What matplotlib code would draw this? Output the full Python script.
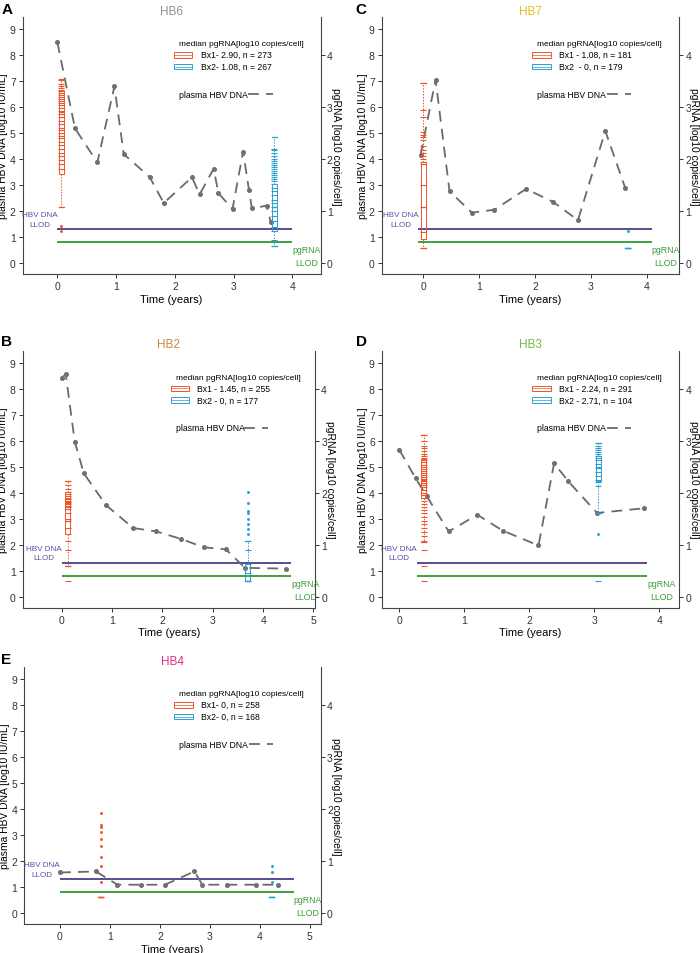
import matplotlib
matplotlib.use('Agg')
import matplotlib.pyplot as plt
from matplotlib.patches import Rectangle

plt.rcParams['font.family'] = ['Liberation Sans', 'DejaVu Sans']

# plasma HBV DNA [log10 IU/mL] over time (years)
hb6_t = [0.0, 0.30, 0.68, 0.97, 1.13, 1.57, 1.81, 2.29, 2.42, 2.66, 2.74, 2.98, 3.16, 3.26, 3.31, 3.56, 3.63]
hb6_dna = [8.49, 5.18, 3.87, 6.79, 4.19, 3.31, 2.31, 3.30, 2.64, 3.63, 2.69, 2.08, 4.29, 2.82, 2.10, 2.21, 1.59]
hb7_t = [-0.05, 0.22, 0.47, 0.87, 1.27, 1.84, 2.32, 2.77, 3.26, 3.62]
hb7_dna = [4.15, 7.05, 2.76, 1.94, 2.05, 2.85, 2.36, 1.65, 5.08, 2.87]
hb2_t = [0.0, 0.08, 0.26, 0.44, 0.88, 1.42, 1.88, 2.37, 2.82, 3.26, 3.64, 4.45]
hb2_dna = [8.42, 8.55, 5.95, 4.74, 3.52, 2.64, 2.51, 2.22, 1.90, 1.82, 1.11, 1.08]
hb3_t = [0.0, 0.25, 0.42, 0.76, 1.20, 1.59, 2.14, 2.38, 2.60, 3.04, 3.76]
hb3_dna = [5.65, 4.56, 3.87, 2.51, 3.15, 2.54, 1.97, 5.13, 4.43, 3.22, 3.40]
hb4_t = [0.0, 0.72, 1.15, 1.63, 2.10, 2.69, 2.85, 3.35, 3.93, 4.36]
hb4_dna = [1.56, 1.60, 1.09, 1.09, 1.09, 1.60, 1.09, 1.09, 1.09, 1.09]

dna_llod = 1.3   # log10 IU/mL
pg_llod = 0.4    # log10 copies/cell (right axis)

# extent of the LLOD lines (years)
hb6_llod_x = [0.0, 4.0]
hb7_llod_x = [-0.09, 4.09]
hb2_llod_x = [0.0, 4.56]
hb3_llod_x = [0.27, 3.81]
hb4_llod_x = [0.0, 4.68]

# pgRNA biopsies: position, [whislo, q1, med, q3, whishi], dash points, dot points
hb6_bx_x = [0.07, 3.69]
hb6_bx_stats = [[1.07, 1.71, 2.90, 3.30, 3.53], [0.32, 0.62, 1.08, 1.52, 2.43]]
hb6_bx_dash = [[3.52, 3.45, 3.40, 3.36, 3.33, 3.30, 3.27, 3.24, 3.20, 3.16, 3.12, 3.08, 3.03, 2.98, 2.92,
                2.86, 2.80, 2.74, 2.68, 2.60, 2.55, 2.50, 2.45, 2.40, 2.33, 2.27, 2.20, 2.12, 2.05, 1.98, 1.90, 1.80],
               [2.20, 2.17, 2.12, 2.05, 2.00, 1.97, 1.93, 1.88, 1.84, 1.80, 1.77, 1.74, 1.70, 1.66, 1.62,
                1.57, 1.52, 1.45, 1.38, 1.30, 1.22, 1.15, 1.08, 1.00, 0.90, 0.80, 0.70, 0.62, 0.45, 0.32]]
hb6_bx_dots = [[0.72, 0.61], []]
hb6_bx_labels = ['Bx1- 2.90, n = 273', 'Bx2- 1.08, n = 267']

hb7_bx_x = [0.0, 3.66]
hb7_bx_stats = [[0.30, 0.46, 1.08, 1.94, 3.47], [0.30, 0.30, 0.30, 0.30, 0.30]]
hb7_bx_dash = [[3.47, 2.95, 2.80, 2.52, 2.47, 2.42, 2.36, 2.25, 2.18, 2.12, 2.06, 2.00, 1.95, 1.90,
                1.50, 1.08, 0.60, 0.30],
               [0.30]]
hb7_bx_dots = [[], [0.61]]
hb7_bx_labels = ['Bx1 - 1.08, n = 181', 'Bx2  - 0, n = 179']

hb2_bx_x = [0.12, 3.69]
hb2_bx_stats = [[0.60, 1.20, 1.45, 2.02, 2.22], [0.30, 0.30, 0.30, 0.62, 1.08]]
hb2_bx_dash = [[2.22, 2.15, 2.08, 2.02, 1.98, 1.94, 1.90, 1.87, 1.84, 1.82, 1.80, 1.78, 1.75, 1.72,
                1.68, 1.60, 1.50, 1.45, 1.32, 1.20, 1.08, 0.90, 0.60, 0.30],
               [1.08, 0.90, 0.62, 0.45, 0.30]]
hb2_bx_dots = [[], [2.02, 1.80, 1.65, 1.60, 1.50, 1.40, 1.30, 1.20]]
hb2_bx_labels = ['Bx1 - 1.45, n = 255', 'Bx2 - 0, n = 177']

hb3_bx_x = [0.38, 3.06]
hb3_bx_stats = [[1.05, 1.90, 2.24, 2.65, 3.10], [1.60, 2.22, 2.50, 2.70, 2.95]]
hb3_bx_dash = [[3.10, 3.00, 2.90, 2.85, 2.80, 2.75, 2.70, 2.66, 2.62, 2.58, 2.54, 2.50, 2.46, 2.42,
                2.38, 2.34, 2.30, 2.26, 2.22, 2.18, 2.14, 2.10, 2.05, 2.00, 1.95, 1.90, 1.84, 1.78,
                1.72, 1.66, 1.60, 1.53, 1.46, 1.40, 1.32, 1.25, 1.16, 1.08, 0.90, 0.60, 0.30],
               [2.95, 2.90, 2.86, 2.82, 2.78, 2.74, 2.70, 2.66, 2.62, 2.55, 2.48, 2.40, 2.32, 2.25,
                2.20, 2.12, 1.60, 0.30]]
hb3_bx_dots = [[], [1.20]]
hb3_bx_labels = ['Bx1 - 2.24, n = 291', 'Bx2 - 2.71, n = 104']

hb4_bx_x = [0.82, 4.24]
hb4_bx_stats = [[0.30, 0.30, 0.30, 0.30, 0.30], [0.30, 0.30, 0.30, 0.30, 0.30]]
hb4_bx_dash = [[0.30], [0.30]]
hb4_bx_dots = [[1.92, 1.70, 1.65, 1.55, 1.42, 1.28, 1.08, 0.90, 0.60], [0.90, 0.78, 0.60]]
hb4_bx_labels = ['Bx1- 0, n = 258', 'Bx2- 0, n = 168']

bx_colors = ['#f0552a', '#2aa0d2']
line_col = '#6a6a6a'
purple = '#4a3f8f'
green = '#2e9a2e'
axis_col = '#333333'


def draw_panel(rect, letter, letter_xy, name, name_col, t, dna, llod_x,
               bx_x, bx_stats, bx_dash, bx_dots, bx_labels, xlim, xmax):
    ax = fig.add_axes(rect)
    ylim = (-0.42, 9.46)
    ax.set_ylim(ylim)
    ax.set_xlim(xlim)
    ax.set_xticks(range(0, xmax + 1))
    ax.set_yticks(range(0, 10))

    ax.plot(t, dna, color=line_col, lw=1.3, dashes=(6, 4), marker='o', ms=2.6,
            mfc='#707070', mec='#707070', zorder=4)
    ax.hlines(dna_llod, llod_x[0], llod_x[1], color=purple, lw=1.3, zorder=3)
    ax.hlines(pg_llod * 2, llod_x[0], llod_x[1], color=green, lw=1.3, zorder=3)
    ax.text(llod_x[0], dna_llod + 0.06, 'HBV DNA\nLLOD', color='#5b4fa5', fontsize=5.9,
            ha='right', va='bottom', multialignment='center', linespacing=1.55)
    ax.text(llod_x[1], pg_llod * 2 - 0.12, 'pgRNA\nLLOD', color='#3a9d3a', fontsize=6.3,
            ha='left', va='top', multialignment='center', linespacing=1.5)

    ax2 = ax.twinx()
    ax2.set_ylim(ylim[0] / 2, ylim[1] / 2)
    ax2.set_yticks(range(0, 5))

    px_per_year = rect[2] * 700 / (xlim[1] - xlim[0])
    w = 5.0 / px_per_year
    for i in range(2):
        c = bx_colors[i]
        s = bx_stats[i]
        st = [dict(whislo=s[0], q1=s[1], med=s[2], q3=s[3], whishi=s[4], fliers=[])]
        ax2.bxp(st, positions=[bx_x[i]], widths=w, capwidths=w, showfliers=False,
                manage_ticks=False,
                boxprops=dict(color=c, lw=0.7),
                whiskerprops=dict(color=c, lw=0.7, ls=(0, (1.5, 1.5))),
                capprops=dict(color=c, lw=0.9),
                medianprops=dict(color=c, lw=0.9))
        ax2.plot([bx_x[i]] * len(bx_dash[i]), bx_dash[i], ls='none', marker='_',
                 ms=5, mew=0.8, color=c)
        if bx_dots[i]:
            ax2.plot([bx_x[i]] * len(bx_dots[i]), bx_dots[i], ls='none', marker='.',
                     ms=2.2, color=c)

    for a in (ax, ax2):
        a.spines['top'].set_visible(False)
        a.tick_params(direction='out', length=3, width=0.7, labelsize=7.5,
                      colors=axis_col, pad=2)
    ax2.tick_params(pad=1.5)
    ax.spines['right'].set_visible(False)
    ax2.spines['left'].set_visible(False)
    ax2.spines['bottom'].set_visible(False)
    for sp in ('left', 'bottom'):
        ax.spines[sp].set_color('#444444')
        ax.spines[sp].set_linewidth(0.8)
    ax2.spines['right'].set_color('#444444')
    ax2.spines['right'].set_linewidth(0.8)

    ax.set_xlabel('Time (years)', fontsize=8, labelpad=2)
    ax.set_ylabel('plasma HBV DNA [log10 IU/mL]', fontsize=7.4, labelpad=1)
    ax2.set_ylabel('pgRNA [log10 copies/cell]', fontsize=7.4, rotation=270,
                   va='bottom', labelpad=-1.5)
    ax.set_title(name, color=name_col, fontsize=8.5, pad=2.5)
    fig.text(letter_xy[0], letter_xy[1], letter, fontsize=11, fontweight='bold',
             ha='left', va='center')

    # legend
    tr = ax.transAxes
    ax.text(0.523, 0.897, 'median pgRNA[log10 copies/cell]', fontsize=6, ha='left',
            va='center', transform=tr)
    for i in range(2):
        y = 0.853 - i * 0.046
        ax.add_patch(Rectangle((0.507, y - 0.011), 0.062, 0.022, transform=tr,
                               fill=False, ec=bx_colors[i], lw=0.7))
        ax.plot([0.507, 0.569], [y, y], color=bx_colors[i], lw=0.5, transform=tr)
        ax.text(0.598, y, bx_labels[i], fontsize=6.2, ha='left', va='center', transform=tr)
    ax.text(0.523, 0.70, 'plasma HBV DNA', fontsize=6.2, ha='left', va='center', transform=tr)
    ax.plot([0.757, 0.84], [0.70, 0.70], color=line_col, lw=1.3, dashes=(6, 4), transform=tr)


fig = plt.figure(figsize=(7, 9.54), dpi=100)

draw_panel([0.0324, 0.7117, 0.4257, 0.2694], 'A', (0.002, 0.990), 'HB6', '#8f8f8f',
           hb6_t, hb6_dna, hb6_llod_x, hb6_bx_x, hb6_bx_stats, hb6_bx_dash, hb6_bx_dots,
           hb6_bx_labels, (-0.59, 4.48), 4)
draw_panel([0.5453, 0.7117, 0.4247, 0.2694], 'C', (0.508, 0.990), 'HB7', '#e8b820',
           hb7_t, hb7_dna, hb7_llod_x, hb7_bx_x, hb7_bx_stats, hb7_bx_dash, hb7_bx_dots,
           hb7_bx_labels, (-0.745, 4.58), 4)
draw_panel([0.0324, 0.362, 0.4176, 0.2694], 'B', (0.002, 0.641), 'HB2', '#c88a40',
           hb2_t, hb2_dna, hb2_llod_x, hb2_bx_x, hb2_bx_stats, hb2_bx_dash, hb2_bx_dots,
           hb2_bx_labels, (-0.775, 5.03), 5)
draw_panel([0.5453, 0.362, 0.4247, 0.2694], 'D', (0.508, 0.641), 'HB3', '#7ab648',
           hb3_t, hb3_dna, hb3_llod_x, hb3_bx_x, hb3_bx_stats, hb3_bx_dash, hb3_bx_dots,
           hb3_bx_labels, (-0.27, 4.30), 4)
draw_panel([0.0343, 0.0304, 0.4239, 0.2694], 'E', (0.002, 0.308), 'HB4', '#e02c8c',
           hb4_t, hb4_dna, hb4_llod_x, hb4_bx_x, hb4_bx_stats, hb4_bx_dash, hb4_bx_dots,
           hb4_bx_labels, (-0.72, 5.22), 5)

fig.savefig('out.png', dpi=100)
